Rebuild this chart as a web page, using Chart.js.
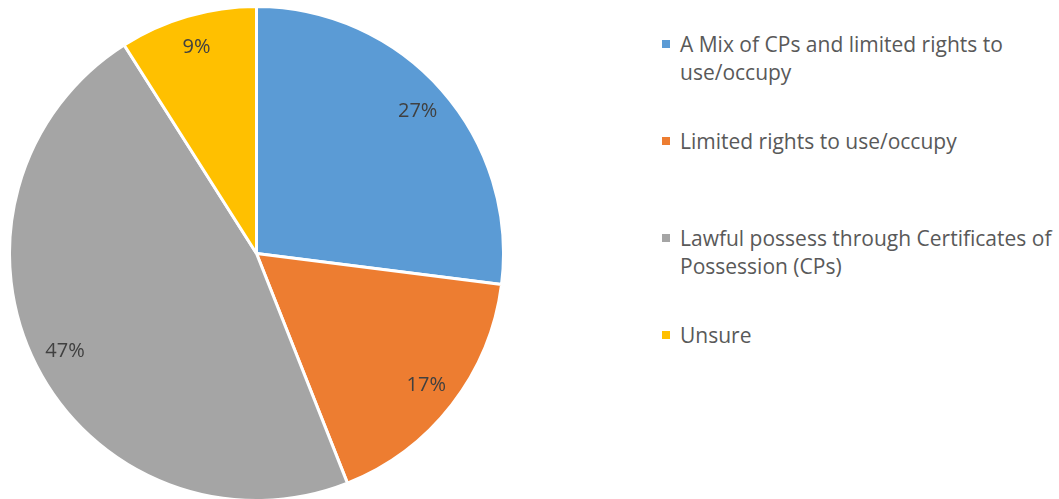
<!DOCTYPE html>
<html>
<head>
<meta charset="utf-8">
<script src="https://cdn.jsdelivr.net/npm/chart.js@4.4.1/dist/chart.umd.min.js"></script>
<style>
  html, body { margin: 0; padding: 0; background: #fff; overflow: hidden; }
  #wrap { position: relative; width: 1059px; height: 499px; overflow: hidden; }
  #box { position: absolute; left: 0; top: 0; width: 505px; height: 502px; }
  #legend { position: absolute; left: 662px; top: 0; width: 397px; height: 499px;
            font-family: "Open Sans", sans-serif; font-size: 21px; color: #595959; }
  .item { position: absolute; left: 0; display: flex; align-items: flex-start; line-height: 28px; white-space: nowrap; }
  .sw { width: 8px; height: 8px; margin-top: 10px; margin-right: 10px; flex: none; }
</style>
</head>
<body>
<div id="wrap">
  <div id="box"><canvas id="pie"></canvas></div>
  <div id="legend"></div>
</div>
<script>
const categories = [
  'A Mix of CPs and limited rights to use/occupy',
  'Limited rights to use/occupy',
  'Lawful possess through Certificates of Possession (CPs)',
  'Unsure'
];
const legendLines = [
  ['A Mix of CPs and limited rights to', 'use/occupy'],
  ['Limited rights to use/occupy'],
  ['Lawful possess through Certificates of', 'Possession (CPs)'],
  ['Unsure']
];
const shares = [27, 17, 47, 9];
const colors = ['#5B9BD5', '#ED7D31', '#A5A5A5', '#FFC000'];

// percent labels inside the slices
const sliceLabels = {
  id: 'sliceLabels',
  afterDatasetsDraw(chart) {
    const ctx = chart.ctx;
    const meta = chart.getDatasetMeta(0);
    const total = shares.reduce((a, b) => a + b, 0);
    ctx.save();
    ctx.font = '20px "Open Sans", sans-serif';
    ctx.fillStyle = '#404040';
    ctx.textAlign = 'center';
    ctx.textBaseline = 'middle';
    meta.data.forEach((arc, i) => {
      const p = arc.getProps(['x', 'y', 'startAngle', 'endAngle', 'outerRadius'], true);
      const mid = (p.startAngle + p.endAngle) / 2;
      const r = p.outerRadius * 0.87;
      const pct = Math.round(shares[i] / total * 100) + '%';
      ctx.fillText(pct, p.x + Math.cos(mid) * r, p.y + Math.sin(mid) * r);
    });
    ctx.restore();
  }
};

new Chart(document.getElementById('pie'), {
  type: 'pie',
  data: {
    labels: categories,
    datasets: [{
      data: shares,
      backgroundColor: colors,
      borderColor: '#ffffff',
      borderWidth: 3,
    }],
  },
  options: {
    responsive: true,
    maintainAspectRatio: false,
    animation: false,
    layout: { padding: { left: 8, top: 5, bottom: 0, right: 0 } },
    plugins: {
      legend: { display: false },
      tooltip: { enabled: false },
    },
  },
  plugins: [sliceLabels],
});

const legend = document.getElementById('legend');
legendLines.forEach((lines, i) => {
  const item = document.createElement('div');
  item.className = 'item';
  item.style.top = (30 + i * 97) + 'px';
  const sw = document.createElement('span');
  sw.className = 'sw';
  sw.style.background = colors[i];
  const txt = document.createElement('div');
  txt.innerHTML = lines.join('<br>');
  item.appendChild(sw);
  item.appendChild(txt);
  legend.appendChild(item);
});
</script>
</body>
</html>
